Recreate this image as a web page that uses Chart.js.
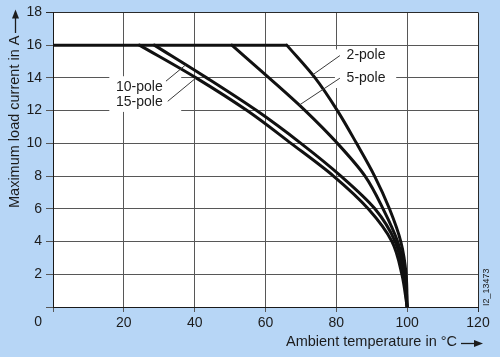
<!DOCTYPE html>
<html><head><meta charset="utf-8">
<script src="https://cdn.jsdelivr.net/npm/chart.js"></script>
<style>
html,body{margin:0;padding:0;background:#b7d6f6;overflow:hidden;}
#wrap{width:500px;height:357px;position:relative;}
</style>
</head><body><div id="wrap"><canvas id="c"></canvas></div>
<script>
// Current levels (A) at which the derating temperatures are read
const currentLevels = [16, 14, 12, 10, 8, 6, 4, 2, 0];
// Ambient temperature (°C) reached at each current level, per connector type
const temp2pole  = [66,   74,   80.3, 85.7, 90.8, 95,   98.2, 99.7, 100];
const temp5pole  = [50.5, 61,   71.2, 80.3, 88.1, 93.2, 97.3, 99.4, 100];
const temp10pole = [28.6, 43.4, 57.5, 70,   81.3, 90.9, 96.6, 99,   100];
const temp15pole = [24.4, 40.4, 54.8, 67.2, 79.2, 89,   95.7, 98.5, 100];
const seriesNames = ['2-pole', '5-pole', '10-pole', '15-pole'];
const ratedCurrent = 16;
const xTickValues = [0, 20, 40, 60, 80, 100, 120];
const yTickValues = [0, 2, 4, 6, 8, 10, 12, 14, 16, 18];
const xTitle = 'Ambient temperature in °C';
const yTitle = 'Maximum load current in A';
const drawingId = 'I2_13473';

// labels with leader lines (data units)
const labelNotes = [
  {text: '2-pole',  x: 82.9, y: 15.36, from: [73.3, 14.18], to: [81.0, 15.36]},
  {text: '5-pole',  x: 82.9, y: 13.98, from: [69.5, 12.33], to: [81.0, 13.98]},
  {text: '10-pole', x: 17.8, y: 13.44, from: [37.5, 14.8],  to: [31.9, 13.8]},
  {text: '15-pole', x: 17.8, y: 12.53, from: [40.4, 14.0],  to: [32.4, 12.57]}
];
// white masks behind label groups (data units)
const labelMasks = [
  {x0: 79.6, x1: 96.9, y0: 15.74, y1: 13.38},
  {x0: 15.9, x1: 36.2, y0: 14.1,  y1: 11.92}
];

const tempSeries = [temp2pole, temp5pole, temp10pole, temp15pole];
const flatEnd = Math.max(...tempSeries.map(s => s[0]));

const datasets = [{
  label: 'rated',
  data: [{x: 0, y: ratedCurrent}, {x: flatEnd, y: ratedCurrent}],
  borderColor: '#111', borderWidth: 3, pointRadius: 0, tension: 0
}];
tempSeries.forEach((s, i) => {
  datasets.push({
    label: seriesNames[i],
    indexAxis: 'y',
    data: s.map((t, k) => ({x: t, y: currentLevels[k]})),
    borderColor: '#111', borderWidth: 3, pointRadius: 0,
    cubicInterpolationMode: 'monotone', borderCapStyle: 'round', borderJoinStyle: 'round'
  });
});

const FONT = '"Liberation Sans", Arial, Helvetica, sans-serif';
const TXT = '#1c1c1c';

const deco = {
  id: 'deco',
  beforeDraw(chart) {
    const {ctx, chartArea: a} = chart;
    ctx.save();
    ctx.fillStyle = '#b7d6f6';
    ctx.fillRect(0, 0, chart.width, chart.height);
    ctx.fillStyle = '#ffffff';
    ctx.fillRect(a.left, a.top, a.right - a.left, a.bottom - a.top);
    ctx.restore();
  },
  beforeDatasetsDraw(chart) {
    const {ctx} = chart; const xs = chart.scales.x, ys = chart.scales.y;
    ctx.save();
    ctx.fillStyle = '#ffffff';
    labelMasks.forEach(m => {
      const x0 = xs.getPixelForValue(m.x0), x1 = xs.getPixelForValue(m.x1);
      const y0 = ys.getPixelForValue(m.y0), y1 = ys.getPixelForValue(m.y1);
      ctx.fillRect(x0, y0, x1 - x0, y1 - y0);
    });
    ctx.restore();
  },
  afterDatasetsDraw(chart) {
    const {ctx} = chart; const xs = chart.scales.x, ys = chart.scales.y;
    ctx.save();
    ctx.strokeStyle = '#3a3a3a'; ctx.lineWidth = 1;
    labelNotes.forEach(n => {
      ctx.beginPath();
      ctx.moveTo(xs.getPixelForValue(n.from[0]), ys.getPixelForValue(n.from[1]));
      ctx.lineTo(xs.getPixelForValue(n.to[0]), ys.getPixelForValue(n.to[1]));
      ctx.stroke();
    });
    ctx.fillStyle = TXT;
    ctx.font = '14px ' + FONT;
    ctx.textAlign = 'left'; ctx.textBaseline = 'middle';
    labelNotes.forEach(n => {
      ctx.fillText(n.text, xs.getPixelForValue(n.x), ys.getPixelForValue(n.y));
    });
    ctx.restore();
  },
  afterDraw(chart) {
    const {ctx} = chart;
    const a = chart.chartArea;
    ctx.save();
    ctx.fillStyle = TXT; ctx.strokeStyle = TXT;
    // origin label
    ctx.font = '14px ' + FONT;
    ctx.textAlign = 'right'; ctx.textBaseline = 'middle';
    ctx.fillText('0', a.left - 11, a.bottom + 15);
    // x title
    ctx.font = '14.5px ' + FONT;
    ctx.textAlign = 'right'; ctx.textBaseline = 'middle';
    ctx.fillText(xTitle, 457, 342);
    // x arrow
    ctx.lineWidth = 1.3;
    ctx.beginPath(); ctx.moveTo(461, 343.5); ctx.lineTo(475, 343.5); ctx.stroke();
    ctx.beginPath(); ctx.moveTo(483, 343.5); ctx.lineTo(474, 340); ctx.lineTo(474, 347); ctx.closePath(); ctx.fill();
    // y title
    ctx.save();
    ctx.translate(18.5, 208);
    ctx.rotate(-Math.PI / 2);
    ctx.textAlign = 'left'; ctx.textBaseline = 'alphabetic';
    ctx.fillText(yTitle, 0, 0);
    ctx.restore();
    // y arrow
    ctx.beginPath(); ctx.moveTo(15.5, 33); ctx.lineTo(15.5, 17); ctx.stroke();
    ctx.beginPath(); ctx.moveTo(15.5, 9.5); ctx.lineTo(12, 18.5); ctx.lineTo(19, 18.5); ctx.closePath(); ctx.fill();
    // drawing id
    ctx.save();
    ctx.translate(488.5, 306);
    ctx.rotate(-Math.PI / 2);
    ctx.font = '9px ' + FONT;
    ctx.textAlign = 'left'; ctx.textBaseline = 'alphabetic';
    ctx.fillText(drawingId, 0, 0);
    ctx.restore();
    ctx.restore();
  }
};

new Chart(document.getElementById('c'), {
  type: 'line',
  data: {datasets},
  plugins: [deco],
  options: {
    responsive: true, maintainAspectRatio: false, animation: false,
    devicePixelRatio: 1,
    layout: {padding: {left: 0, right: 22, top: 8, bottom: 0}, autoPadding: false},
    plugins: {legend: {display: false}, tooltip: {enabled: false}},
    elements: {line: {fill: false}},
    scales: {
      x: {
        type: 'linear', min: 0, max: 120,
        afterBuildTicks: s => { s.ticks = xTickValues.map(v => ({value: v})); },
        ticks: {callback: v => v === 0 ? '' : String(v), font: {family: FONT, size: 14}, color: TXT, padding: 3, maxRotation: 0, autoSkip: false},
        grid: {color: c => (c.tick && c.tick.value === 120) ? '#2a2a2a' : '#575757', lineWidth: 1, tickLength: 5},
        border: {color: '#1a1a1a', width: 1},
        afterFit: s => { s.height = 50; }
      },
      y: {
        type: 'linear', min: 0, max: 18,
        afterBuildTicks: s => { s.ticks = yTickValues.map(v => ({value: v})); },
        ticks: {callback: v => v === 0 ? '' : String(v), font: {family: FONT, size: 14}, color: TXT, padding: 4, autoSkip: false},
        grid: {color: c => (c.tick && c.tick.value === 18) ? '#2a2a2a' : '#575757', lineWidth: 1, tickLength: 7},
        border: {color: '#1a1a1a', width: 1},
        afterFit: s => { s.width = 53; }
      }
    }
  }
});
</script>
</body></html>
